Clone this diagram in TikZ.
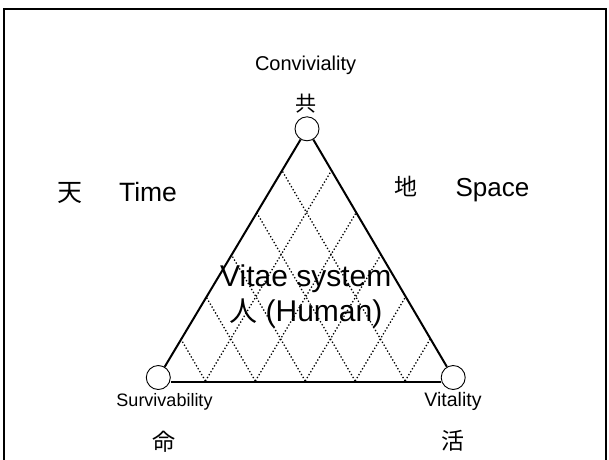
\documentclass[tikz,border=0pt]{standalone}
\usepackage{fontspec}
\setmainfont{Liberation Sans}
\newfontfamily\cjk{Noto Sans CJK JP}
\usetikzlibrary{calc}
\begin{document}
\begin{tikzpicture}[x=1pt,y=-1pt,
  vert/.style={circle,draw,fill=white,line width=0.9pt,minimum size=24pt,inner sep=0pt},
  side/.style={line width=2pt},
  lattice/.style={line width=1.3pt,dash pattern=on 1.3pt off 2.1pt},
  lbl/.style={anchor=base,inner sep=0pt}]
\useasboundingbox (0,0) rectangle (609,459);
\clip (0,0) rectangle (609,459);
\draw[line width=2pt] (4,470) -- (4,9) -- (606,9) -- (606,470);
% lattice corners
\coordinate (A) at (307,128);
\coordinate (L) at (155.5,381);
\coordinate (R) at (455,381);
\foreach \k in {1,...,5}{
  \draw[lattice] ($(L)!\k/6!(R)$) -- ($(A)!\k/6!(R)$);
  \draw[lattice] ($(L)!\k/6!(R)$) -- ($(L)!\k/6!(A)$);
}
% vertices
\node[vert] (top) at (307,128.8) {};
\node[vert] (bl) at (158.3,377.5) {};
\node[vert] (br) at (453.2,377.5) {};
\draw[side] (top) -- (bl);
\draw[side] (top) -- (br);
\coordinate (base) at (300,381.5);
\draw[side] (bl.east |- base) -- (br.west |- base);
% labels
\node[lbl,font=\fontsize{20}{24}\selectfont] (conv) at (305.6,70.7) {Conviviality};
\node[lbl,font=\fontsize{21}{24}\cjk] (kyo) at (306,111.7) {共};
\node[lbl,font=\fontsize{25}{28}\cjk] (ten) at (70,201.5) {天};
\node[lbl,font=\fontsize{26.5}{30}\selectfont] (time) at (148,201.5) {Time};
\node[lbl,font=\fontsize{23}{26}\cjk] (chi) at (406,195) {地};
\node[lbl,font=\fontsize{26}{30}\selectfont] (space) at (492.5,196) {Space};
\node[lbl,font=\fontsize{30}{34}\selectfont] (vitae) at (305.8,286) {Vitae system};
\node[lbl,font=\fontsize{30}{34}\selectfont] (human) at (305.8,321.7) {{\cjk\fontsize{28}{34}\selectfont 人} (Human)};
\node[lbl,font=\fontsize{18}{22}\selectfont] (surv) at (164.5,406.7) {Survivability};
\node[lbl,font=\fontsize{19.5}{22}\selectfont] (vita) at (453,406.7) {Vitality};
\node[lbl,font=\fontsize{23}{26}\cjk] (mei) at (163.5,450) {命};
\node[lbl,font=\fontsize{23}{26}\cjk] (katsu) at (453,449) {活};
\end{tikzpicture}
\end{document}
